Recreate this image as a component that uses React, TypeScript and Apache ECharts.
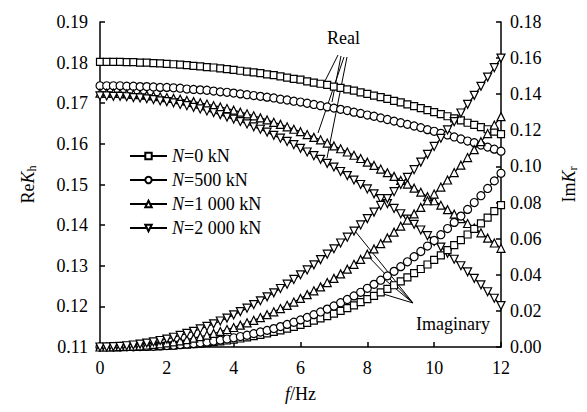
import React, { useEffect, useRef } from 'react';
import * as echarts from 'echarts';

// frequency f (Hz)
const freq = [
  0, 0.2, 0.4, 0.6, 0.8, 1, 1.2, 1.4, 1.6, 1.8,
  2, 2.2, 2.4, 2.6, 2.8, 3, 3.2, 3.4, 3.6, 3.8,
  4, 4.2, 4.4, 4.6, 4.8, 5, 5.2, 5.4, 5.6, 5.8,
  6, 6.2, 6.4, 6.6, 6.8, 7, 7.2, 7.4, 7.6, 7.8,
  8, 8.2, 8.4, 8.6, 8.8, 9, 9.2, 9.4, 9.6, 9.8,
  10, 10.2, 10.4, 10.6, 10.8, 11, 11.2, 11.4, 11.6, 11.8,
  12,
];

const seriesNames = ['N=0 kN', 'N=500 kN', 'N=1 000 kN', 'N=2 000 kN'];

// Real part Re K_h (left axis)
const reN0 = [
  0.1802, 0.1802, 0.1802, 0.1802, 0.1801, 0.1801, 0.1800, 0.1800, 0.1799, 0.1798,
  0.1797, 0.1796, 0.1795, 0.1794, 0.1792, 0.1791, 0.1789, 0.1788, 0.1786, 0.1784,
  0.1782, 0.1780, 0.1778, 0.1776, 0.1774, 0.1771, 0.1769, 0.1766, 0.1763, 0.1760,
  0.1758, 0.1754, 0.1751, 0.1748, 0.1745, 0.1741, 0.1738, 0.1734, 0.1731, 0.1727,
  0.1723, 0.1719, 0.1715, 0.1711, 0.1706, 0.1702, 0.1697, 0.1693, 0.1688, 0.1683,
  0.1678, 0.1673, 0.1668, 0.1663, 0.1658, 0.1652, 0.1647, 0.1641, 0.1636, 0.1630,
  0.1624,
];
const reN500 = [
  0.1743, 0.1743, 0.1743, 0.1743, 0.1742, 0.1742, 0.1741, 0.1741, 0.1740, 0.1739,
  0.1739, 0.1738, 0.1737, 0.1735, 0.1734, 0.1733, 0.1732, 0.1730, 0.1728, 0.1727,
  0.1725, 0.1723, 0.1721, 0.1719, 0.1717, 0.1715, 0.1713, 0.1710, 0.1708, 0.1705,
  0.1703, 0.1700, 0.1697, 0.1694, 0.1691, 0.1688, 0.1685, 0.1682, 0.1678, 0.1675,
  0.1671, 0.1668, 0.1664, 0.1660, 0.1656, 0.1652, 0.1648, 0.1644, 0.1640, 0.1635,
  0.1631, 0.1626, 0.1622, 0.1617, 0.1612, 0.1607, 0.1603, 0.1597, 0.1592, 0.1587,
  0.1582,
];
const reN1000 = [
  0.1725, 0.1725, 0.1725, 0.1724, 0.1723, 0.1722, 0.1721, 0.1720, 0.1718, 0.1716,
  0.1714, 0.1712, 0.1710, 0.1707, 0.1704, 0.1701, 0.1698, 0.1694, 0.1691, 0.1687,
  0.1683, 0.1678, 0.1674, 0.1669, 0.1664, 0.1659, 0.1653, 0.1648, 0.1642, 0.1636,
  0.1630, 0.1623, 0.1616, 0.1610, 0.1602, 0.1595, 0.1588, 0.1580, 0.1572, 0.1564,
  0.1555, 0.1547, 0.1538, 0.1529, 0.1520, 0.1510, 0.1501, 0.1491, 0.1481, 0.1470,
  0.1460, 0.1449, 0.1438, 0.1427, 0.1416, 0.1404, 0.1393, 0.1381, 0.1368, 0.1356,
  0.1343,
];
const reN2000 = [
  0.1718, 0.1718, 0.1717, 0.1717, 0.1716, 0.1714, 0.1713, 0.1711, 0.1709, 0.1706,
  0.1704, 0.1701, 0.1697, 0.1694, 0.1690, 0.1686, 0.1681, 0.1677, 0.1672, 0.1666,
  0.1661, 0.1655, 0.1649, 0.1642, 0.1636, 0.1629, 0.1621, 0.1614, 0.1606, 0.1598,
  0.1589, 0.1580, 0.1571, 0.1562, 0.1552, 0.1543, 0.1532, 0.1522, 0.1511, 0.1500,
  0.1489, 0.1477, 0.1465, 0.1453, 0.1441, 0.1428, 0.1415, 0.1402, 0.1388, 0.1374,
  0.1360, 0.1346, 0.1331, 0.1316, 0.1300, 0.1285, 0.1269, 0.1253, 0.1236, 0.1220,
  0.1202,
];

// Imaginary part Im K_r (right axis)
const imN0 = [
  0, 0, 0, 0, 0.0001, 0.0001, 0.0002, 0.0002, 0.0004, 0.0005,
  0.0006, 0.0008, 0.0011, 0.0013, 0.0016, 0.0019, 0.0023, 0.0027, 0.0031, 0.0036,
  0.0041, 0.0047, 0.0053, 0.0060, 0.0067, 0.0075, 0.0084, 0.0092, 0.0102, 0.0112,
  0.0123, 0.0134, 0.0146, 0.0158, 0.0171, 0.0185, 0.0200, 0.0215, 0.0231, 0.0248,
  0.0265, 0.0283, 0.0302, 0.0322, 0.0342, 0.0364, 0.0386, 0.0409, 0.0432, 0.0457,
  0.0482, 0.0508, 0.0536, 0.0564, 0.0592, 0.0623, 0.0654, 0.0685, 0.0717, 0.0752,
  0.0786,
];
const imN500 = [
  0, 0, 0, 0, 0.0001, 0.0001, 0.0002, 0.0003, 0.0004, 0.0006,
  0.0008, 0.0010, 0.0013, 0.0016, 0.0019, 0.0023, 0.0028, 0.0033, 0.0038, 0.0044,
  0.0051, 0.0058, 0.0065, 0.0074, 0.0083, 0.0092, 0.0102, 0.0113, 0.0125, 0.0137,
  0.0150, 0.0164, 0.0179, 0.0194, 0.0210, 0.0227, 0.0245, 0.0263, 0.0283, 0.0303,
  0.0325, 0.0347, 0.0370, 0.0394, 0.0419, 0.0445, 0.0472, 0.0500, 0.0529, 0.0559,
  0.0590, 0.0622, 0.0656, 0.0690, 0.0725, 0.0762, 0.0800, 0.0838, 0.0878, 0.0920,
  0.0962,
];
const imN1000 = [
  0, 0, 0.0001, 0.0002, 0.0003, 0.0005, 0.0007, 0.0010, 0.0014, 0.0018,
  0.0023, 0.0028, 0.0034, 0.0041, 0.0049, 0.0057, 0.0066, 0.0075, 0.0086, 0.0097,
  0.0108, 0.0121, 0.0134, 0.0148, 0.0163, 0.0179, 0.0195, 0.0213, 0.0231, 0.0249,
  0.0269, 0.0290, 0.0311, 0.0333, 0.0357, 0.0380, 0.0405, 0.0431, 0.0458, 0.0485,
  0.0514, 0.0543, 0.0573, 0.0604, 0.0636, 0.0669, 0.0703, 0.0737, 0.0773, 0.0810,
  0.0847, 0.0886, 0.0925, 0.0966, 0.1007, 0.1049, 0.1093, 0.1137, 0.1182, 0.1229,
  0.1276,
];
const imN2000 = [
  0, 0, 0.0002, 0.0004, 0.0007, 0.0011, 0.0016, 0.0022, 0.0028, 0.0036,
  0.0044, 0.0054, 0.0064, 0.0075, 0.0087, 0.0100, 0.0114, 0.0128, 0.0144, 0.0160,
  0.0178, 0.0196, 0.0215, 0.0235, 0.0256, 0.0278, 0.0300, 0.0324, 0.0348, 0.0374,
  0.0400, 0.0427, 0.0455, 0.0484, 0.0514, 0.0544, 0.0576, 0.0608, 0.0642, 0.0676,
  0.0711, 0.0747, 0.0784, 0.0822, 0.0860, 0.0900, 0.0940, 0.0982, 0.1024, 0.1067,
  0.1111, 0.1156, 0.1202, 0.1248, 0.1296, 0.1344, 0.1394, 0.1444, 0.1495, 0.1547,
  0.1600,
];

const realSets = [reN0, reN500, reN1000, reN2000];
const imagSets = [imN0, imN500, imN1000, imN2000];

const symbols = ['rect', 'circle', 'triangle', 'triangle'];
const symbolRot = [0, 0, 0, 180];
const symbolSizes = [7, 8, 8, 8];

const FONT = 'Liberation Serif';

export default function App() {
  const ref = useRef<HTMLDivElement>(null);
  useEffect(() => {
    document.body.style.margin = '0';
    const chart = echarts.init(ref.current!, null, { renderer: 'svg' });

    const mk = (vals: number[], i: number, axis: number) => ({
      type: 'line',
      name: seriesNames[i],
      yAxisIndex: axis,
      data: freq.map((f, k) => [f, vals[k]]),
      symbol: symbols[i],
      symbolSize: symbolSizes[i],
      symbolRotate: symbolRot[i],
      showAllSymbol: true,
      lineStyle: { color: '#000', width: 1.2 },
      itemStyle: { color: '#fff', borderColor: '#000', borderWidth: 1.2 },
      emphasis: { disabled: true },
      silent: true,
    });

    const series: any[] = [];
    realSets.forEach((s, i) => series.push(mk(s, i, 0)));
    imagSets.forEach((s, i) => series.push(mk(s, i, 1)));

    const axisCommon = {
      axisLine: { show: true, lineStyle: { color: '#000', width: 1.5 } },
      axisTick: { show: true, inside: true, length: 5, lineStyle: { color: '#000', width: 1.5 } },
      splitLine: { show: false },
    };

    const line = (x1: number, y1: number, x2: number, y2: number) => ({
      type: 'line',
      shape: { x1, y1, x2, y2 },
      style: { stroke: '#000', lineWidth: 1 },
      silent: true,
    });

    chart.setOption({
      animation: false,
      backgroundColor: '#fff',
      textStyle: { fontFamily: FONT },
      grid: { left: 100, right: 83, top: 22, bottom: 65 },
      legend: {
        orient: 'vertical',
        left: 124,
        top: 142,
        itemWidth: 37,
        itemHeight: 8,
        itemGap: 6,
        data: seriesNames,
        selectedMode: false,
        formatter: (name: string) => `{i|N}{r|${name.slice(1)}}`,
        textStyle: {
          fontFamily: FONT,
          fontSize: 18,
          color: '#000',
          rich: {
            i: { fontFamily: FONT, fontSize: 18, fontStyle: 'italic', color: '#000' },
            r: { fontFamily: FONT, fontSize: 18, color: '#000' },
          },
        },
      },
      xAxis: {
        type: 'value',
        min: 0,
        max: 12,
        interval: 2,
        ...axisCommon,
        axisLabel: { color: '#000', fontFamily: FONT, fontSize: 18, margin: 12 },
        name: '{i|f}{r|/Hz}',
        nameLocation: 'middle',
        nameGap: 38,
        nameTextStyle: {
          rich: {
            i: { fontFamily: FONT, fontSize: 18, fontStyle: 'italic', color: '#000' },
            r: { fontFamily: FONT, fontSize: 18, color: '#000' },
          },
        },
      },
      yAxis: [
        {
          type: 'value',
          min: 0.11,
          max: 0.19,
          interval: 0.01,
          position: 'left',
          ...axisCommon,
          axisLabel: {
            color: '#000', fontFamily: FONT, fontSize: 18, margin: 12,
            formatter: (v: number) => v.toFixed(2),
          },
          name: '{r|Re}{i|K}{s|h}',
          nameLocation: 'middle',
          nameRotate: 90,
          nameGap: 62,
          nameTextStyle: {
            rich: {
              r: { fontFamily: FONT, fontSize: 18, color: '#000', lineHeight: 20 },
              i: { fontFamily: FONT, fontSize: 18, fontStyle: 'italic', color: '#000', lineHeight: 20 },
              s: { fontFamily: FONT, fontSize: 12, color: '#000', lineHeight: 12, verticalAlign: 'bottom' },
            },
          },
        },
        {
          type: 'value',
          min: 0,
          max: 0.18,
          interval: 0.02,
          position: 'right',
          ...axisCommon,
          axisLabel: {
            color: '#000', fontFamily: FONT, fontSize: 18, margin: 9,
            formatter: (v: number) => v.toFixed(2),
          },
          name: '{r|Im}{i|K}{s|r}',
          nameLocation: 'middle',
          nameRotate: 90,
          nameGap: 58,
          nameTextStyle: {
            rich: {
              r: { fontFamily: FONT, fontSize: 18, color: '#000', lineHeight: 20 },
              i: { fontFamily: FONT, fontSize: 18, fontStyle: 'italic', color: '#000', lineHeight: 20 },
              s: { fontFamily: FONT, fontSize: 12, color: '#000', lineHeight: 12, verticalAlign: 'bottom' },
            },
          },
        },
      ],
      graphic: [
        {
          type: 'text',
          left: 327,
          top: 29,
          style: { text: 'Real', fontFamily: FONT, fontSize: 18, fill: '#000' },
          silent: true,
        },
        line(338, 55, 323, 85),
        line(341, 56, 332, 102),
        line(344, 57, 318, 133),
        line(347, 57, 327, 158),
        {
          type: 'text',
          left: 416,
          top: 315,
          style: { text: 'Imaginary', fontFamily: FONT, fontSize: 18, fill: '#000' },
          silent: true,
        },
        line(413, 303, 355, 231),
        line(413, 303, 367, 255),
        line(413, 303, 384, 279),
        line(413, 303, 380, 293),
      ],
      series,
    });

    return () => chart.dispose();
  }, []);
  return <div ref={ref} style={{ width: 587, height: 412 }} />;
}
